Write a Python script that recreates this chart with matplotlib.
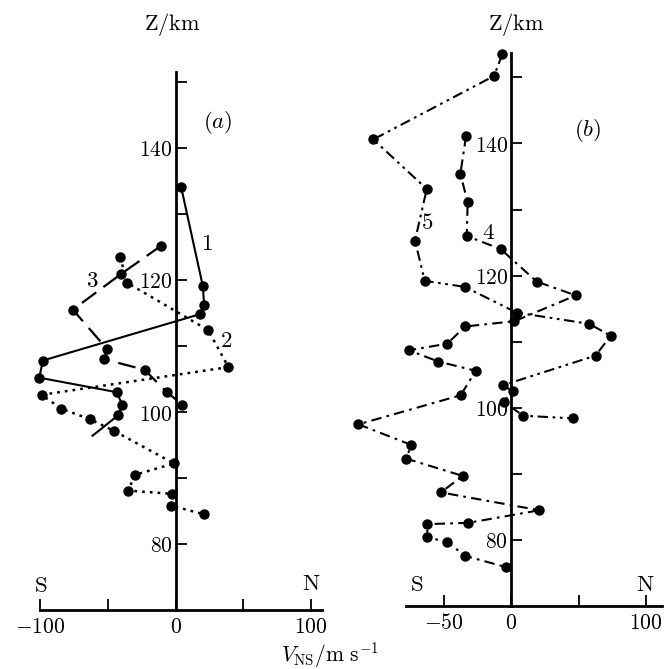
import matplotlib
matplotlib.use("Agg")
import matplotlib.pyplot as plt

plt.rcParams['mathtext.fontset'] = 'cm'
plt.rcParams['font.family'] = ['DejaVu Serif']

# ---------------- data ----------------
# panel (a)
a1_v = [4, 20, 21, 17.6, -98, -100.7, -43.5, -39.4, -42.5, -61.4]
a1_z = [134.1, 119.1, 116.2, 114.8, 107.8, 105.2, 103.0, 101.1, 99.5, 96.4]

a2_v = [-40.9, -36, 24, 38.9, -99, -84.3, -63.3, -45.2, -1.2, -29.7, -35.3, -2.7, -3.4, 21]
a2_z = [123.5, 119.6, 112.4, 106.8, 102.6, 100.5, 98.9, 97.1, 92.2, 90.5, 88.1, 87.6, 85.8, 84.5]

a3_v = [-10.7, -40.4, -75.9, -50.5, -52.9, -23, -6.5, 5]
a3_z = [125.2, 120.9, 115.5, 109.5, 108.0, 106.4, 103.0, 101.1]

# panel (b)
b4_v = [-33.3, -37.5, -32.1, -32.8, -7.6, 19, 48, 2.5, -34, -47.2, -75.6, -53.9, -26.1,
        -37.3, -113, -74, -77.5, -35.8, -51.9, 21, -31.6, -62, -62, -47.2, -34, -3.7]
b4_z = [141.1, 135.4, 131.1, 126.0, 124.0, 119.1, 117.0, 113.1, 112.3, 109.7, 108.7, 107.0, 105.6,
        101.9, 97.5, 94.4, 92.3, 89.7, 87.2, 84.5, 82.6, 82.4, 80.4, 79.7, 77.6, 75.9]

b5_v = [-6.4, -12.6, -102, -62.4, -71.1, -63.9, -34.3, 4.2, 58, 73.8, 62.7, -6.1, 1.5, -5.4, 9.1, 46.1]
b5_z = [153.5, 150.2, 140.6, 133.1, 125.3, 119.2, 118.3, 114.4, 112.7, 110.9, 107.9, 103.4, 102.5, 100.9, 98.8, 98.4]

y_major = [80, 100, 120, 140]
y_minor = [90, 110, 130, 150]
ya_labels = ['80', '100', '120', '140']

xa_ticks = [-100, -50, 0, 50, 100]
xa_labels = ['-100', '', '0', '', '100']
xb_ticks = [-50, 0, 50, 100]
xb_labels = ['-50', '0', '', '100']

W, H = 665, 669
fig = plt.figure(figsize=(W / 100, H / 100), dpi=100)
fig.patch.set_facecolor('white')


def make_axes(x0px, sx, z70px, sz, xlim, ylim):
    left = x0px + xlim[0] * sx
    width = (xlim[1] - xlim[0]) * sx
    bottom = z70px + (70 - ylim[0]) * sz
    height = (ylim[1] - ylim[0]) * sz
    ax = fig.add_axes([left / W, 1 - bottom / H, width / W, height / H])
    ax.set_xlim(*xlim)
    ax.set_ylim(*ylim)
    ax.set_facecolor('none')
    return ax


def style_axes(ax, ybounds, xbounds, xticks, xlabels):
    for s in ['top', 'right']:
        ax.spines[s].set_visible(False)
    ax.spines['left'].set_position(('data', 0))
    ax.spines['bottom'].set_position(('data', 70))
    ax.spines['left'].set_bounds(*ybounds)
    ax.spines['bottom'].set_bounds(*xbounds)
    ax.spines['left'].set_linewidth(2.0)
    ax.spines['bottom'].set_linewidth(2.0)
    ax.set_yticks(y_major)
    ax.set_yticklabels([r'$%s$' % t for t in ya_labels])
    ax.set_yticks(y_minor, minor=True)
    ax.set_xticks(xticks)
    ax.set_xticklabels([(r'$%s$' % t if t else '') for t in xlabels])
    ax.tick_params(axis='y', which='both', direction='in', length=8, width=1.3,
                   labelsize=15.5, pad=2)
    ax.tick_params(axis='x', which='both', direction='in', length=8, width=1.3,
                   labelsize=15.5, pad=4)


mk = dict(marker='o', markersize=6.5, color='black', markerfacecolor='black')

# ---------- panel (a) ----------
axa = make_axes(175.7, 1.355, 610.0, 6.6, (-110, 112), (66, 157))
style_axes(axa, (70, 151.5), (-100, 108), xa_ticks, xa_labels)
axa.plot(a1_v, a1_z, linestyle='-', lw=1.5, markevery=list(range(len(a1_v) - 1)), **mk)
axa.plot(a2_v, a2_z, linestyle=(0, (1.1, 2.0)), lw=1.8, **mk)
axa.plot(a3_v, a3_z, linestyle=(0, (8, 4)), lw=1.6, **mk)
fs = 16.5
axa.text(23.1, 125.5, r'$1$', fontsize=fs, ha='center', va='center')
axa.text(37.1, 110.8, r'$2$', fontsize=fs, ha='center', va='center')
axa.text(-61.8, 119.8, r'$3$', fontsize=fs, ha='center', va='center')
axa.text(31.2, 143.8, r'$(a)$', fontsize=fs, ha='center', va='center')
axa.text(-100, 73.6, r'$\mathrm{S}$', fontsize=fs, ha='center', va='center')
axa.text(100, 73.9, r'$\mathrm{N}$', fontsize=fs, ha='center', va='center')

# ---------- panel (b) ----------
axb = make_axes(511.0, 1.35, 606.1, 6.61, (-118, 113), (66, 157))
style_axes(axb, (70, 153.7), (-78, 112), xb_ticks, xb_labels)
axb.plot(b4_v, b4_z, linestyle=(0, (5, 2.5, 1.3, 2.5)), lw=1.5, **mk)
axb.plot(b5_v, b5_z, linestyle=(0, (5, 2.2, 1.3, 2.2, 1.3, 2.2)), lw=1.5, **mk)
axb.text(-17, 126.4, r'$4$', fontsize=fs, ha='center', va='center')
axb.text(-62.2, 128.0, r'$5$', fontsize=fs, ha='center', va='center')
axb.text(56.8, 142.0, r'$(b)$', fontsize=fs, ha='center', va='center')
axb.text(-69.6, 73.2, r'$\mathrm{S}$', fontsize=fs, ha='center', va='center')
axb.text(99.3, 73.2, r'$\mathrm{N}$', fontsize=fs, ha='center', va='center')

# axis titles
fig.text(172 / W, 1 - 25 / H, r'$\mathrm{Z/km}$', fontsize=16, ha='center', va='center')
fig.text(516.7 / W, 1 - 25 / H, r'$\mathrm{Z/km}$', fontsize=16, ha='center', va='center')
fig.text(330 / W, 1 - 655 / H, r'$V_{\mathrm{NS}}/\mathrm{m\ s^{-1}}$', fontsize=15.5,
         ha='center', va='center')

fig.savefig('out.png', dpi=100, facecolor='white')
